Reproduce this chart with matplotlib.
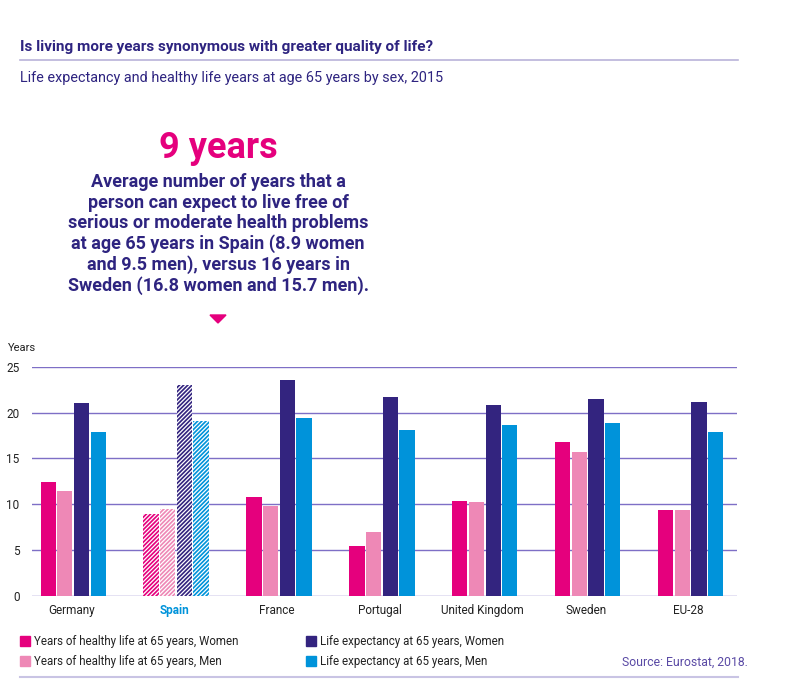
import numpy as np
import matplotlib.pyplot as plt
from matplotlib.patches import Polygon, Rectangle

plt.rcParams['font.family'] = ['Roboto', 'DejaVu Sans']
plt.rcParams['hatch.linewidth'] = 0.9

countries = ['Germany', 'Spain', 'France', 'Portugal', 'United Kingdom', 'Sweden', 'EU-28']
hly_women = [12.4, 8.9, 10.8, 5.4, 10.4, 16.8, 9.4]
hly_men = [11.5, 9.5, 9.8, 7.0, 10.2, 15.7, 9.4]
le_women = [21.0, 23.0, 23.5, 21.7, 20.8, 21.5, 21.2]
le_men = [17.9, 19.1, 19.4, 18.1, 18.6, 18.9, 17.9]

series_labels = ['Years of healthy life at 65 years, Women',
                 'Years of healthy life at 65 years, Men',
                 'Life expectancy at 65 years, Women',
                 'Life expectancy at 65 years, Men']
colors = ['#e5007d', '#ee88b6', '#33247f', '#0093da']
navy = '#2e2480'
grid_col = '#7e6fc6'

W, H = 800, 679
fig = plt.figure(figsize=(W / 100, H / 100), dpi=100)


def fx(x):
    return x / W


def fy(y):
    return 1 - y / H


# header texts
fig.text(fx(20), fy(47), 'Is living more years synonymous with greater quality of life?',
         fontsize=11, fontweight='bold', color=navy, va='center', ha='left')
fig.add_artist(plt.Line2D([fx(20), fx(738)], [fy(60), fy(60)], color='#b9b3d9', lw=1.2))
fig.text(fx(20), fy(78), 'Life expectancy and healthy life years at age 65 years by sex, 2015',
         fontsize=10.4, color=navy, va='center', ha='left')

fig.text(fx(218), fy(148), '9 years', fontsize=26, fontweight='bold', color='#e5007d',
         ha='center', va='center')
body = ('Average number of years that a\n'
        'person can expect to live free of\n'
        'serious or moderate health problems\n'
        'at age 65 years in Spain (8.9 women\n'
        'and 9.5 men), versus 16 years in\n'
        'Sweden (16.8 women and 15.7 men).')
fig.text(fx(218), fy(234), body, fontsize=13, fontweight='bold', color=navy,
         ha='center', va='center', linespacing=1.15)
fig.add_artist(Polygon([[fx(210), fy(315)], [fx(226), fy(315)], [fx(218), fy(323)]],
                       closed=True, color='#e5007d', transform=fig.transFigure))

# chart
ax = fig.add_axes([fx(32), fy(596), fx(737) - fx(32), fy(366.7) - fy(596)])
x = np.arange(len(countries))
slot = 0.162
bw = 0.148
data = [hly_women, hly_men, le_women, le_men]
for i, (vals, c) in enumerate(zip(data, colors)):
    pos = x + (i - 1.5) * slot
    bars = ax.bar(pos, vals, width=bw, color=c, zorder=3, linewidth=0)
    sp = bars[1]
    sp.set_hatch('////////')
    sp.set_edgecolor('white')

ax.set_ylim(0, 25)
ax.set_xlim(-0.40, 6.45)
ax.set_yticks([0, 5, 10, 15, 20, 25])
ax.yaxis.grid(True, color=grid_col, lw=1.0, zorder=0)
for s in ax.spines.values():
    s.set_visible(False)
ax.tick_params(axis='both', length=0, labelsize=8.5, colors='#222222')
ax.tick_params(axis='y', pad=9)
ax.tick_params(axis='x', pad=6)
ax.set_xticks(x - 0.02)
ax.set_xticklabels(countries)
for lbl in ax.get_xticklabels():
    if lbl.get_text() == 'Spain':
        lbl.set_color('#0093da')
        lbl.set_fontweight('bold')
fig.text(fx(8), fy(348), 'Years', fontsize=8, color='#222222', va='center', ha='left')

# legend
leg_pos = [(20, 641), (20, 661), (306, 641), (306, 661)]
for (lx, ly), c, lab in zip(leg_pos, colors, series_labels):
    fig.add_artist(Rectangle((fx(lx), fy(ly + 5)), fx(10), 10 / H, color=c,
                             transform=fig.transFigure))
    fig.text(fx(lx + 14), fy(ly), lab, fontsize=8.3, color='#222222', va='center', ha='left')
fig.text(fx(748), fy(662), 'Source: Eurostat, 2018.', fontsize=8.8, color='#5a4aa5',
         va='center', ha='right')
fig.add_artist(plt.Line2D([fx(20), fx(738)], [fy(677), fy(677)], color='#c9c4e4', lw=1.5))

fig.savefig('out.png', dpi=100)
